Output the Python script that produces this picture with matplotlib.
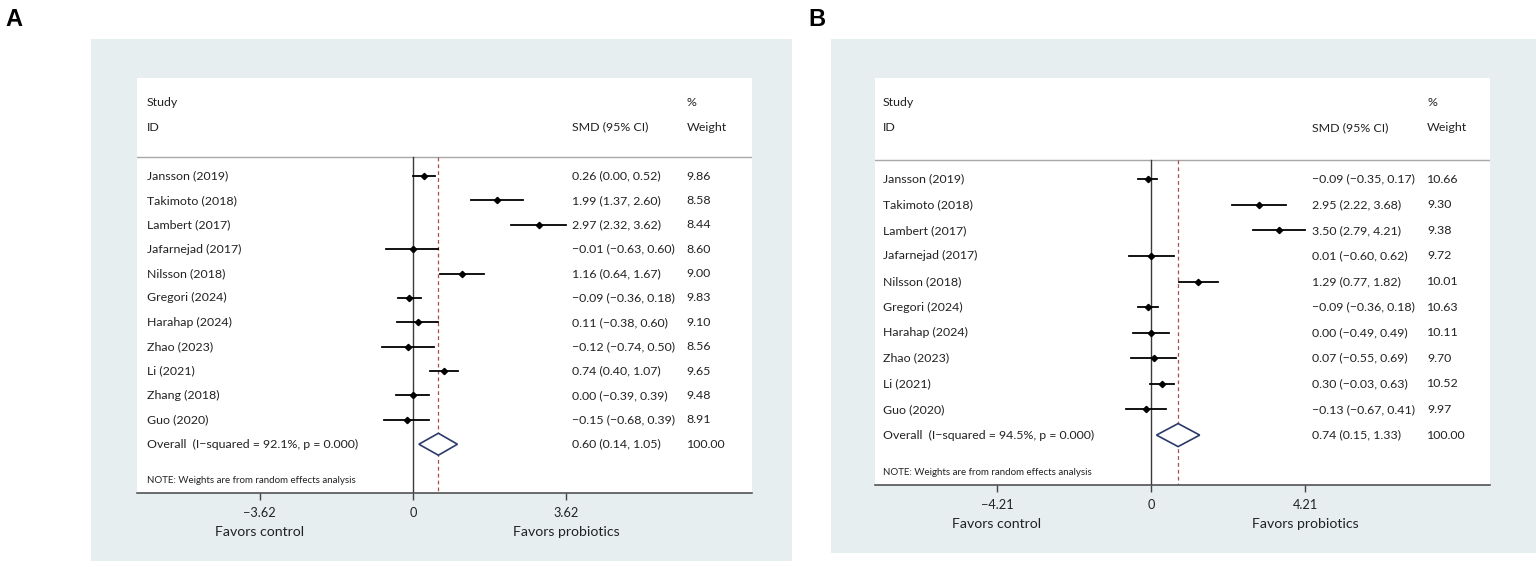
import matplotlib
matplotlib.use("Agg")
import matplotlib.pyplot as plt
from matplotlib.patches import Rectangle, Polygon
from matplotlib.transforms import blended_transform_factory

plt.rcParams['font.family'] = ['Lato', 'DejaVu Sans']

# panel A data
studies_a = ["Jansson (2019)", "Takimoto (2018)", "Lambert (2017)", "Jafarnejad (2017)",
             "Nilsson (2018)", "Gregori (2024)", "Harahap (2024)", "Zhao (2023)",
             "Li (2021)", "Zhang (2018)", "Guo (2020)"]
smd_a = [0.26, 1.99, 2.97, -0.01, 1.16, -0.09, 0.11, -0.12, 0.74, 0.00, -0.15]
lo_a = [0.00, 1.37, 2.32, -0.63, 0.64, -0.36, -0.38, -0.74, 0.40, -0.39, -0.68]
hi_a = [0.52, 2.60, 3.62, 0.60, 1.67, 0.18, 0.60, 0.50, 1.07, 0.39, 0.39]
wt_a = [9.86, 8.58, 8.44, 8.60, 9.00, 9.83, 9.10, 8.56, 9.65, 9.48, 8.91]
overall_a = [0.60, 0.14, 1.05]
isq_a = 92.1

# panel B data
studies_b = ["Jansson (2019)", "Takimoto (2018)", "Lambert (2017)", "Jafarnejad (2017)",
             "Nilsson (2018)", "Gregori (2024)", "Harahap (2024)", "Zhao (2023)",
             "Li (2021)", "Guo (2020)"]
smd_b = [-0.09, 2.95, 3.50, 0.01, 1.29, -0.09, 0.00, 0.07, 0.30, -0.13]
lo_b = [-0.35, 2.22, 2.79, -0.60, 0.77, -0.36, -0.49, -0.55, -0.03, -0.67]
hi_b = [0.17, 3.68, 4.21, 0.62, 1.82, 0.18, 0.49, 0.69, 0.63, 0.41]
wt_b = [10.66, 9.30, 9.38, 9.72, 10.01, 10.63, 10.11, 9.70, 10.52, 9.97]
overall_b = [0.74, 0.15, 1.33]
isq_b = 94.5

BG = "#e6eef0"
TXT = "#222222"
FS = 8.9
W, H = 1536, 567


def fmt(v):
    return f"{v:.2f}".replace("-", "\u2212")


def forest(fig, label, lab_x, bg, box, xlim, ylim, cols, studies, smd, lo, hi, wt, overall, isq):
    # bg / box given in pixels (left, top, right, bottom)
    fig.patches.append(Rectangle((bg[0] / W, 1 - bg[3] / H), (bg[2] - bg[0]) / W,
                                 (bg[3] - bg[1]) / H, transform=fig.transFigure,
                                 facecolor=BG, edgecolor='none', zorder=-5))
    fig.text(lab_x / W, 1 - 20 / H, label, fontsize=17, fontweight='bold',
             family='Liberation Sans', ha='center', va='center')
    ax = fig.add_axes([box[0] / W, 1 - box[3] / H, (box[2] - box[0]) / W,
                       (box[3] - box[1]) / H])
    ax.set_facecolor('white')
    ax.set_xlim(*xlim)
    ax.set_ylim(*ylim)
    for s in ['top', 'left', 'right']:
        ax.spines[s].set_visible(False)
    ax.spines['bottom'].set_color('#444444')
    ax.spines['bottom'].set_linewidth(1.1)
    ax.set_yticks([])

    n = len(studies)
    hdr = -0.76
    trans = blended_transform_factory(ax.transAxes, ax.transData)
    ax.axhline(hdr, color='#a8a8a8', lw=1.0)

    ax.plot([0, 0], [hdr, ylim[0]], color='#3a3a3a', lw=1.0, zorder=2)
    ax.plot([overall[0], overall[0]], [hdr, ylim[0]], color='#a84c4c', lw=0.9,
            ls=(0, (3, 2.5)), zorder=2)

    for i in range(n):
        ax.plot([lo[i], hi[i]], [i, i], color='black', lw=1.3, zorder=3)
        ax.plot(smd[i], i, marker='D', ms=3.2, color='black', zorder=4)
        ax.text(cols[0], i, studies[i], transform=trans, fontsize=FS, color=TXT, va='center')
        ax.text(cols[1], i, f"{fmt(smd[i])} ({fmt(lo[i])}, {fmt(hi[i])})",
                transform=trans, fontsize=FS, color=TXT, va='center')
        ax.text(cols[2], i, f"{wt[i]:.2f}", transform=trans, fontsize=FS, color=TXT,
                va='center')

    e, l, h = overall
    dm = Polygon([[l, n], [e, n - 0.45], [h, n], [e, n + 0.45]], closed=True,
                 facecolor='white', edgecolor='#2b3a6a', lw=1.2, zorder=4)
    ax.add_patch(dm)
    ax.text(cols[0], n, f"Overall  (I\u2212squared = {isq}%, p = 0.000)", transform=trans,
            fontsize=FS, color=TXT, va='center')
    ax.text(cols[1], n, f"{fmt(e)} ({fmt(l)}, {fmt(h)})", transform=trans, fontsize=FS,
            color=TXT, va='center')
    ax.text(cols[2], n, "100.00", transform=trans, fontsize=FS, color=TXT, va='center')

    ax.text(cols[0], -3.0, "Study", transform=trans, fontsize=FS, color=TXT, va='center')
    ax.text(cols[0], -2.0, "ID", transform=trans, fontsize=FS, color=TXT, va='center')
    ax.text(cols[1], -2.0, "SMD (95% CI)", transform=trans, fontsize=FS, color=TXT, va='center')
    ax.text(cols[2], -3.0, "%", transform=trans, fontsize=FS, color=TXT, va='center')
    ax.text(cols[2], -2.0, "Weight", transform=trans, fontsize=FS, color=TXT, va='center')
    ax.text(cols[0], ylim[0] - 0.5, "NOTE: Weights are from random effects analysis",
            transform=trans, fontsize=7.0, color=TXT, va='center')

    m = max(max(abs(v) for v in lo), max(abs(v) for v in hi))
    ticks = [-m, 0, m]
    ax.set_xticks(ticks)
    ax.set_xticklabels([fmt(-m), "0", fmt(m)])
    ax.tick_params(axis='x', length=5, width=1, color='#444444', labelsize=9.2,
                   labelcolor=TXT, pad=5)
    for x, t in [(-m, "Favors control"), (m, "Favors probiotics")]:
        ax.annotate(t, xy=(x, 0), xycoords=('data', 'axes fraction'), xytext=(0, -39),
                    textcoords='offset pixels', ha='center', va='center', fontsize=10.2,
                    color=TXT)
    return ax


fig = plt.figure(figsize=(W / 100, H / 100), dpi=100)

forest(fig, "A", 14, (91, 39, 792, 561), (137, 78, 752, 493), (-6.52, 8.01), (13.0, -4.02),
       (0.016, 0.708, 0.894), studies_a, smd_a, lo_a, hi_a, wt_a, overall_a, isq_a)
forest(fig, "B", 817, (831, 39, 1536, 553), (875, 78, 1490, 485), (-7.54, 9.26), (11.95, -3.95),
       (0.013, 0.711, 0.898), studies_b, smd_b, lo_b, hi_b, wt_b, overall_b, isq_b)

fig.savefig("out.png", dpi=100)
